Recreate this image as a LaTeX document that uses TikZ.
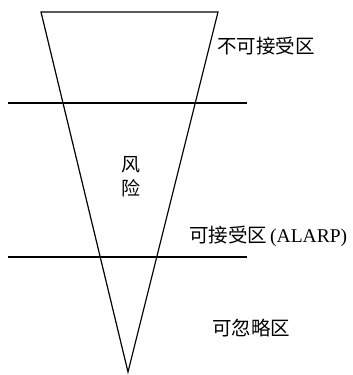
\documentclass[tikz,border=0pt]{standalone}
\usepackage{fontspec}
\setmainfont{Liberation Serif}
\newfontfamily\cjk{Noto Sans CJK SC}
\begin{document}
\begin{tikzpicture}[x=1pt,y=-1pt,
  lbl/.style={inner sep=0pt,anchor=west,font=\fontsize{19.5}{22}\selectfont},
  ln/.style={line width=1.2pt,black}]
\useasboundingbox (0,0) rectangle (353,375);
\coordinate (tl) at (41,12);
\coordinate (tr) at (218,12);
\coordinate (ap) at (128,372);
\draw[ln,line join=miter] (tl) -- (tr) -- (ap) -- cycle;
\coordinate (a1) at (8,103);
\coordinate (b1) at (247,103);
\coordinate (a2) at (8,257);
\coordinate (b2) at (247,257);
\draw[ln] (a1) -- (b1);
\draw[ln] (a2) -- (b2);
\node[lbl] (z1) at (217,46) {\cjk 不可接受区};
\node[lbl] (z2) at (189,236) {\cjk 可接受区\hspace{3pt}\rmfamily(ALARP)};
\node[lbl] (z3) at (212,328) {\cjk 可忽略区};
\node[inner sep=0pt,font=\fontsize{19}{24}\selectfont,align=center] (r) at (131,177) {\cjk 风\\\cjk 险};
\end{tikzpicture}
\end{document}
